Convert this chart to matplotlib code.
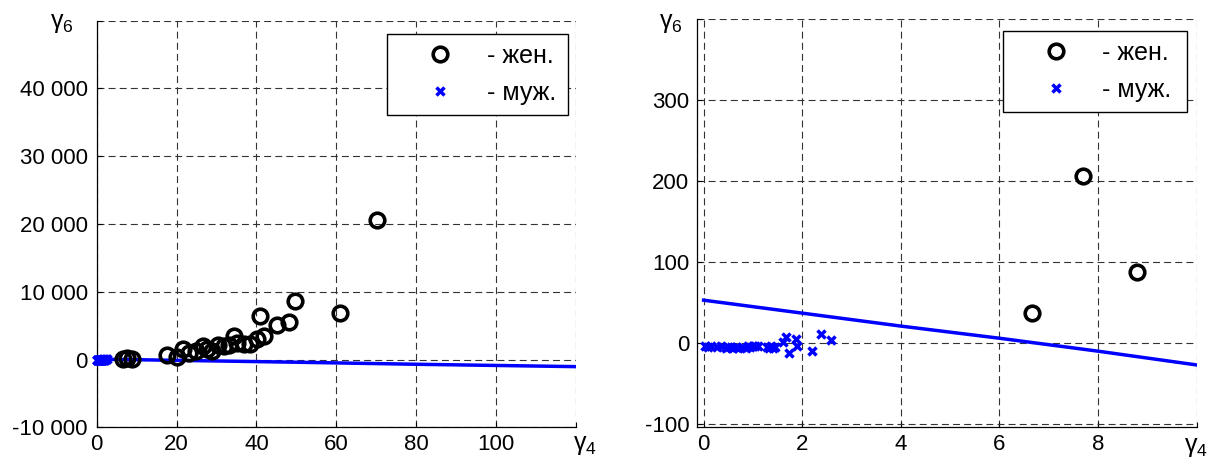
import matplotlib
matplotlib.use('Agg')
import matplotlib.pyplot as plt
from matplotlib.lines import Line2D

plt.rcParams.update({
    'font.family': ['Liberation Sans', 'DejaVu Sans'],
    'mathtext.fontset': 'custom',
    'mathtext.rm': 'Liberation Sans',
    'mathtext.it': 'Liberation Sans',
    'mathtext.bf': 'Liberation Sans:bold',
    'lines.scale_dashes': False,
})

# ---- data ----
women_x = [6.66, 7.69, 8.78, 17.5, 20.2, 21.7, 23.1, 24.75, 26.7, 27.5, 28.9, 30.4,
           31.8, 33.1, 34.3, 35.2, 36.8, 38.5, 40.2, 41.0, 41.8, 45.2, 48.1, 49.75,
           61.0, 70.2]
women_y = [37, 207, 88, 700, 350, 1480, 990, 1230, 1970, 1480, 1230, 2120,
           1970, 2120, 3450, 2460, 2320, 2220, 2960, 6400, 3450, 5070, 5570, 8620,
           6900, 20600]

men_x = [0.02, 0.08, 0.15, 0.28, 0.35, 0.45, 0.5, 0.55, 0.6, 0.65, 0.7, 0.78, 0.85,
         0.9, 0.95, 1.0, 1.05, 1.1, 1.28, 1.32, 1.36, 1.4, 1.45, 1.6, 1.68, 1.73,
         1.88, 1.9, 2.19, 2.39, 2.59]
men_y = [-4, -5, -4, -5, -4, -6, -5, -5, -6, -5, -6, -5, -6,
         -4, -5, -4, -3, -4, -5, -6, -4, -6, -5, 1, 8, -12,
         5, -3, -10, 11, 4]

boundary_x = [0, 2, 4, 6, 8, 10, 50, 80, 120]
boundary_y = [53, 37, 21, 6, -10, -27, -400, -700, -1050]

left_xticks = [0, 20, 40, 60, 80, 100, 120]
left_xlabels = ['0', '20', '40', '60', '80', '100', '']
left_yticks = [-10000, 0, 10000, 20000, 30000, 40000, 50000]
left_ylabels = ['-10 000', '0', '10 000', '20 000', '30 000', '40 000', '']

right_xticks = [0, 2, 4, 6, 8, 10]
right_xlabels = ['0', '2', '4', '6', '8', '']
right_yticks = [-100, 0, 100, 200, 300, 400]
right_ylabels = ['-100', '0', '100', '200', '300', '']

x_name = r'$\gamma_4$'
y_name = r'$\gamma_6$'
legend_labels = ['- жен.', '- муж.']

BLUE = '#0000ff'

fig = plt.figure(figsize=(12.1, 4.59), dpi=100)
ax1 = fig.add_axes([0.0799, 0.0691, 0.3961, 0.8858])
ax2 = fig.add_axes([0.5758, 0.0691, 0.4132, 0.8889])


def draw(ax, xlim, ylim, xt, xl, yt, yl, leg_box, ypad, yname_off, xname_off):
    ax.plot(boundary_x, boundary_y, color=BLUE, lw=2.5, zorder=2)
    ax.plot(men_x, men_y, ls='none', marker='x', ms=6, mew=2.5,
            color=BLUE, zorder=3, clip_on=False)
    ax.plot(women_x, women_y, ls='none', marker='o', ms=10.5, mew=2.6,
            mec='black', mfc='none', zorder=4, clip_on=False)
    ax.set_xlim(*xlim)
    ax.set_ylim(*ylim)
    ax.set_xticks(xt)
    ax.set_xticklabels(xl)
    ax.set_yticks(yt)
    ax.set_yticklabels(yl)
    ax.tick_params(direction='in', length=3.5, width=0.8, labelsize=16)
    ax.tick_params(axis='y', pad=ypad)
    ax.tick_params(axis='x', pad=5)
    ax.grid(True, color='#333333', lw=0.8, ls=(0, (5, 3)))
    ax.set_axisbelow(True)
    for s in ('top', 'right'):
        ax.spines[s].set_visible(False)
    for s in ('left', 'bottom'):
        ax.spines[s].set_linewidth(0.9)
    ax.annotate(y_name, xy=(0, 1), xycoords='axes fraction', xytext=yname_off,
                textcoords='offset points', ha='right', va='center', fontsize=18)
    ax.annotate(x_name, xy=(1, 0), xycoords='axes fraction', xytext=xname_off,
                textcoords='offset points', ha='left', va='top', fontsize=18)
    handles = [
        Line2D([], [], ls='none', marker='o', ms=10.5, mew=2.6, mec='black', mfc='none'),
        Line2D([], [], ls='none', marker='x', ms=6, mew=2.5, color=BLUE),
    ]
    leg = ax.legend(handles, legend_labels, loc='upper left', bbox_to_anchor=leg_box,
                    mode='expand', fontsize=18, frameon=True, fancybox=False,
                    framealpha=1, edgecolor='black', borderpad=0.4,
                    labelspacing=0.52, handlelength=3.44, handletextpad=0.15,
                    borderaxespad=0)
    leg.get_frame().set_linewidth(1.0)


draw(ax1, (0, 120), (-10000, 50000), left_xticks, left_xlabels,
     left_yticks, left_ylabels, (0.606, 0.0, 0.377, 0.967), 6.5,
     (-17, -1.5), (-2, -4))
draw(ax2, (-0.14, 10), (-104, 400), right_xticks, right_xlabels,
     right_yticks, right_ylabels, (0.612, 0.0, 0.368, 0.972), 5.3,
     (-10.6, -2.7), (-9, -5.5))

fig.savefig('out.png', dpi=100)
